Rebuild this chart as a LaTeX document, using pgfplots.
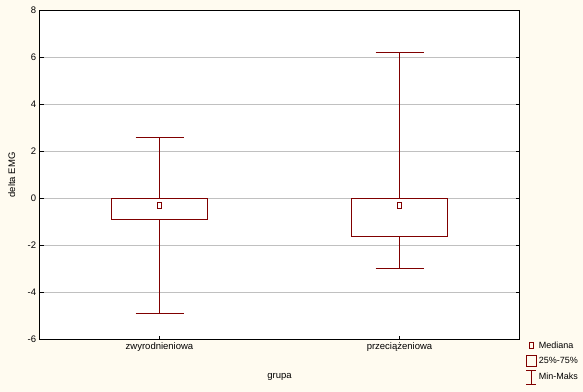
\documentclass[border=0pt]{standalone}
\usepackage{fontspec}
\setmainfont{Liberation Sans}
\usepackage{pgfplots}
\pgfplotsset{compat=1.18}
\definecolor{bg}{RGB}{255,251,240}
\definecolor{dred}{RGB}{128,0,0}
\definecolor{gridc}{RGB}{192,192,192}
\begin{document}
\fontsize{9.5bp}{11bp}\selectfont
\begin{tikzpicture}
\fill[bg] (0bp,0bp) rectangle (583bp,392bp);
\begin{axis}[
  at={(39.5bp,52.5bp)}, anchor=south west,
  scale only axis, width=480bp, height=329bp,
  xmin=0.5, xmax=2.5, ymin=-6, ymax=8,
  xtick={1,2}, xticklabels={zwyrodnieniowa, przeciążeniowa},
  ytick={-6,-4,...,8},
  xtick pos=bottom, ytick pos=both,
  tick align=inside, major tick length=4bp,
  tick style={black, line width=1bp},
  ymajorgrids, grid style={gridc, line width=1bp},
  axis line style={black, line width=1bp},
  axis background/.style={fill=white},
  every axis plot/.append style={draw=dred, color=dred, line width=1.1bp},
  ylabel={delta EMG}, xlabel={grupa},
  ylabel style={at={(axis description cs:-0.058,0.5)}, anchor=center},
  xlabel style={at={(axis description cs:0.5,-0.115)}, anchor=center},
  tick label style={font=\fontsize{9.5bp}{11bp}\selectfont},
  label style={font=\fontsize{9.5bp}{11bp}\selectfont},
  /pgf/number format/assume math mode=true,
  legend style={at={(axis description cs:1,0)}, anchor=north west,
    xshift=3bp, yshift=2bp, row sep=3bp,
    draw=none, fill=none, font=\fontsize{9bp}{10bp}\selectfont},
  legend cell align=left,
]
% boxes (25%-75%)
\addplot[draw=dred, forget plot] coordinates {(0.8,-0.89) (1.2,-0.89) (1.2,0) (0.8,0) (0.8,-0.89)} --cycle;
\addplot[draw=dred, forget plot] coordinates {(1.8,-1.62) (2.2,-1.62) (2.2,0) (1.8,0) (1.8,-1.62)} --cycle;
% whiskers (min-max)
\addplot[draw=dred, forget plot] coordinates {(1,0) (1,2.6)};
\addplot[draw=dred, forget plot] coordinates {(1,-0.89) (1,-4.89)};
\addplot[draw=dred, forget plot] coordinates {(0.9,2.6) (1.1,2.6)};
\addplot[draw=dred, forget plot] coordinates {(0.9,-4.89) (1.1,-4.89)};
\addplot[draw=dred, forget plot] coordinates {(2,0) (2,6.21)};
\addplot[draw=dred, forget plot] coordinates {(2,-1.62) (2,-2.98)};
\addplot[draw=dred, forget plot] coordinates {(1.9,6.21) (2.1,6.21)};
\addplot[draw=dred, forget plot] coordinates {(1.9,-2.98) (2.1,-2.98)};
% medians
\addplot[only marks, mark=square, mark size=3bp, mark options={draw=dred, line width=1.1bp, xscale=0.67}, forget plot]
  coordinates {(1,-0.3) (2,-0.3)};
\addlegendimage{legend image code/.code={\draw[dred, line width=1.1bp] (0bp,-3bp) rectangle (4bp,3bp);}}
\addlegendentry{Mediana}
\addlegendimage{legend image code/.code={\draw[dred, line width=1.1bp] (-3bp,-5.5bp) rectangle (7bp,5.5bp);}}
\addlegendentry{25\%-75\%}
\addlegendimage{legend image code/.code={\draw[dred, line width=1.1bp] (-3bp,-7bp) -- (7bp,-7bp) (-3bp,7bp) -- (7bp,7bp) (2bp,-7bp) -- (2bp,7bp);}}
\addlegendentry{Min-Maks}
\end{axis}
\end{tikzpicture}
\end{document}
